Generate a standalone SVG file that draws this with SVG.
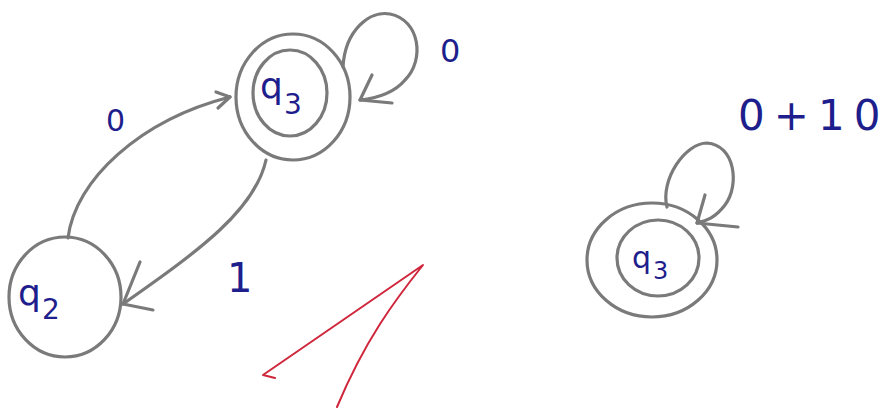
<svg xmlns="http://www.w3.org/2000/svg" width="889" height="408" viewBox="0 0 889 408">
<style>
.st{fill:none;stroke:#7a7a7a;stroke-width:3.2;stroke-linecap:round;stroke-linejoin:round}
.lb{fill:#1e1e8c;font-family:"DejaVu Sans","Liberation Sans",sans-serif}
.q{font-size:36px}
.sub{font-size:28px}
.red{fill:none;stroke:#d0263c;stroke-width:2;stroke-linecap:round;stroke-linejoin:round}
</style>
<rect width="889" height="408" fill="#ffffff"/>
<g id="node-q3">
<ellipse class="st" cx="293" cy="97" rx="57" ry="63"/>
<ellipse class="st" cx="290" cy="93" rx="37" ry="43"/>
<text class="lb q" x="260" y="98">q</text>
<text class="lb sub" x="284" y="114">3</text>
</g>
<g id="node-q2">
<ellipse class="st" cx="65" cy="297" rx="56" ry="60"/>
<text class="lb q" x="18" y="305">q</text>
<text class="lb sub" x="42" y="319">2</text>
</g>
<g id="node-q3b">
<ellipse class="st" cx="652" cy="260" rx="65" ry="57"/>
<ellipse class="st" cx="658" cy="258" rx="41" ry="38"/>
<text class="lb" x="632" y="268" style="font-size:30px">q</text>
<text class="lb" x="653" y="279" style="font-size:24px">3</text>
</g>
<g id="connectors">
<path class="st" d="M68 238 C 75 180, 140 120, 230 97"/>
<path class="st" d="M230 97 L216 92 M230 97 L218 108"/>
<path class="st" d="M266 160 C 255 210, 200 250, 123 304"/>
<path class="st" d="M123 304 L140 262 M123 304 L153 310"/>
<path class="st" d="M343 67 C 345 30, 370 10, 390 14 C 420 20, 425 60, 405 80 C 395 92, 378 98, 360 100"/>
<path class="st" d="M360 100 L372 75 M360 100 L392 103"/>
<path class="st" d="M667 207 C 660 180, 685 143, 707 143 C 735 145, 740 185, 725 205 C 715 218, 706 221, 697 223"/>
<path class="st" d="M697 223 L705 195 M697 223 L738 227"/>
</g>
<g id="labels">
<text class="lb" x="106" y="131" style="font-size:30px">0</text>
<text class="lb" x="440" y="62" style="font-size:32px">0</text>
<text class="lb" x="227" y="292" style="font-size:40px">1</text>
<text class="lb" x="738" y="130" style="font-size:42px;letter-spacing:9px">0+10</text>
</g>
<path class="red" d="M275 378 L263 375 L423 265 C 395 300, 365 340, 337 407"/>
</svg>
